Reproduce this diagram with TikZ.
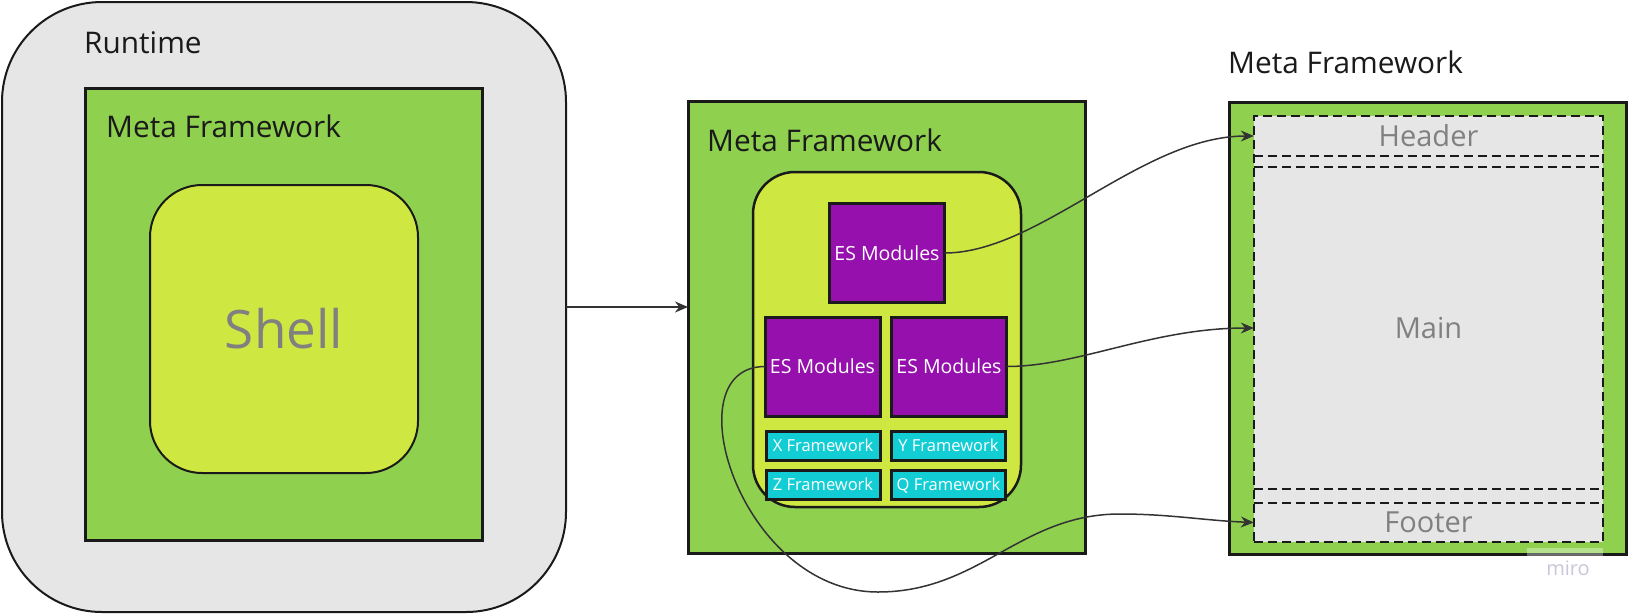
\documentclass[tikz,border=0pt]{standalone}
\usepackage{fontspec}
\setmainfont{Open Sans}
\usetikzlibrary{arrows.meta}

\definecolor{bggrey}{HTML}{E6E6E6}
\definecolor{mfgreen}{HTML}{8FD14F}
\definecolor{shlime}{HTML}{CEE741}
\definecolor{espurple}{HTML}{9510AC}
\definecolor{fwcyan}{HTML}{12CDD4}
\definecolor{edge}{HTML}{1A1A1A}
\definecolor{labelgrey}{HTML}{808080}
\definecolor{wirecol}{HTML}{333333}
\definecolor{miroink}{HTML}{C8C6D8}

\begin{document}
\begin{tikzpicture}[x=1pt, y=-1pt,
  box/.style={draw=edge, inner sep=0pt, outer sep=0pt},
  mfbox/.style={box, fill=mfgreen, line width=3pt, minimum width=397pt, minimum height=452pt},
  esbox/.style={box, fill=espurple, line width=3pt, text=white, text depth=0pt,
    font=\fontsize{19.5}{20}\selectfont, minimum width=115pt, minimum height=99pt},
  fwbox/.style={box, fill=fwcyan, line width=3pt, text=white, text depth=0pt,
    font=\fontsize{16.5}{17}\selectfont, minimum width=114pt, minimum height=29pt},
  title/.style={anchor=base west, inner sep=0pt, text=edge, font=\fontsize{29.8}{31}\selectfont},
  band/.style={inner sep=0pt, minimum width=349pt, text=labelgrey, font=\fontsize{29}{30}\selectfont},
  wire/.style={draw=wirecol, line width=1.5pt, -{Stealth[length=13pt, width=11pt]}},
  sep/.style={draw=edge, line width=2.5pt, dash pattern=on 9pt off 5pt}
]
\useasboundingbox (0,0) rectangle (1628,614);

% runtime with shell
\node[box, fill=bggrey, line width=2pt, rounded corners=100pt, minimum width=564pt, minimum height=610pt] (rt) at (284,307) {};
\node[title] (rtlabel) at (84,53) {Runtime};
\node[mfbox] (mfa) at (283.5,314) {};
\node[title] (mfalabel) at (106,137) {Meta Framework};
\node[box, fill=shlime, line width=2pt, rounded corners=52pt, minimum width=268pt, minimum height=288pt,
  text=labelgrey, font=\fontsize{53}{55}\selectfont] (shell) at (284,329) {Shell};

% meta framework with modules
\node[mfbox] (mfb) at (886.5,327.5) {};
\node[title] (mfblabel) at (707,151) {Meta Framework};
\node[box, fill=shlime, line width=2.5pt, rounded corners=42pt, minimum width=268pt, minimum height=335pt] (core) at (887,339.5) {};
\node[esbox] (est) at (887,253) {ES Modules};
\node[esbox] (esl) at (822.5,366.5) {ES Modules};
\node[esbox] (esr) at (949,366.5) {ES Modules};
\node[fwbox] (fwx) at (823,445.5) {X Framework};
\node[fwbox] (fwy) at (948.5,445.5) {Y Framework};
\node[fwbox] (fwz) at (823,484.5) {Z Framework};
\node[fwbox] (fwq) at (948.5,484.5) {Q Framework};

% page layout
\node[title] (mfclabel) at (1228,73) {Meta Framework};
\node[mfbox] (mfc) at (1428,328) {};
\node[box, sep, fill=bggrey, minimum width=349pt, minimum height=426pt] (page) at (1428.5,329) {};
\node[band, minimum height=40pt] (hdr) at (1428.5,136) {Header};
\node[band, minimum height=322pt] (mn) at (1428.5,328) {Main};
\node[band, minimum height=39pt] (ftr) at (1428.5,522.5) {Footer};
\draw[sep] (hdr.south west) -- (hdr.south east);
\draw[sep] (mn.north west) -- (mn.north east);
\draw[sep] (mn.south west) -- (mn.south east);
\draw[sep] (ftr.north west) -- (ftr.north east);

% connectors
\draw[wire, line width=2pt] (rt.east) -- (rt.east -| mfb.west);
\draw[wire] (est.east) .. controls +(95,0) and +(-112,0) .. (hdr.west);
\draw[wire] (esr.east) .. controls +(72,0) and +(-102,0) .. (mn.west);
\coordinate (dip) at (878,592);
\coordinate (rise) at (1120,514);
\draw[wire] (esl.west) .. controls +(-94,0) and +(-138,0) .. (dip)
  .. controls +(102,0) and +(-100,0) .. (rise)
  .. controls +(50,0) and +(-50,-2) .. (ftr.west);

\fill[white, opacity=0.35] (1527,548) rectangle (1603,557);
\node[anchor=base, inner sep=0pt, text=miroink, font=\fontsize{20}{21}\selectfont] (miro) at (1568,575) {miro};
\end{tikzpicture}
\end{document}
